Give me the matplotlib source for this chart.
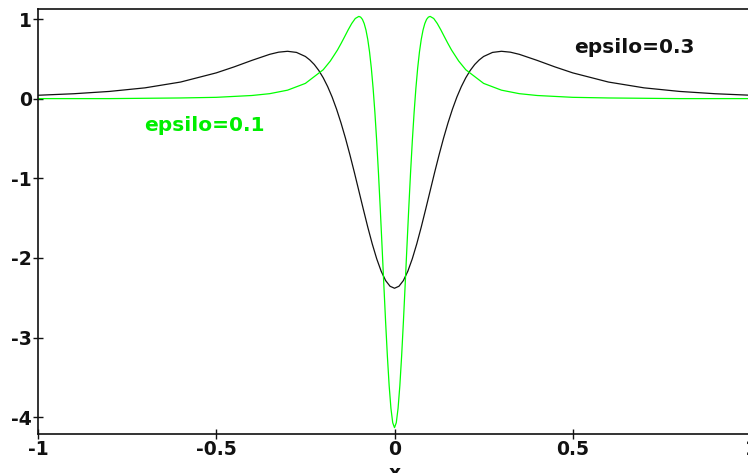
import matplotlib
matplotlib.use("Agg")
import matplotlib.pyplot as plt

# epsilo = 0.3 (black curve)
x_black = [-1.0, -0.9, -0.8, -0.7, -0.6, -0.5, -0.45, -0.4, -0.35, -0.325, -0.3, -0.275,
           -0.25, -0.2375, -0.225, -0.2125, -0.2, -0.1875, -0.175, -0.1625, -0.15, -0.1375,
           -0.125, -0.1125, -0.1, -0.0875, -0.075, -0.0625, -0.05, -0.0375, -0.025, -0.0125,
           0.0,
           0.0125, 0.025, 0.0375, 0.05, 0.0625, 0.075, 0.0875, 0.1, 0.1125, 0.125, 0.1375,
           0.15, 0.1625, 0.175, 0.1875, 0.2, 0.2125, 0.225, 0.2375, 0.25, 0.275, 0.3, 0.325,
           0.35, 0.4, 0.45, 0.5, 0.6, 0.7, 0.8, 0.9, 1.0]
y_black = [0.043, 0.062, 0.091, 0.136, 0.209, 0.324, 0.399, 0.481, 0.557, 0.584, 0.595, 0.581,
           0.530, 0.486, 0.429, 0.355, 0.263, 0.152, 0.021, -0.132, -0.305, -0.497,
           -0.706, -0.927, -1.157, -1.387, -1.612, -1.822, -2.009, -2.165, -2.283, -2.355,
           -2.38,
           -2.355, -2.283, -2.165, -2.009, -1.822, -1.612, -1.387, -1.157, -0.927, -0.706, -0.497,
           -0.305, -0.132, 0.021, 0.152, 0.263, 0.355, 0.429, 0.486, 0.530, 0.581, 0.595, 0.584,
           0.557, 0.481, 0.399, 0.324, 0.209, 0.136, 0.091, 0.062, 0.043]

# epsilo = 0.1 (green curve)
x_green = [-1.0, -0.8, -0.7, -0.6, -0.5, -0.4, -0.35, -0.3, -0.25, -0.2, -0.18, -0.16, -0.15,
           -0.14, -0.13, -0.12, -0.11, -0.1, -0.095, -0.09, -0.085, -0.08, -0.075, -0.07,
           -0.065, -0.06, -0.055, -0.05, -0.045, -0.04, -0.035, -0.03, -0.025, -0.02, -0.015,
           -0.01, -0.005, 0.0,
           0.005, 0.01, 0.015, 0.02, 0.025, 0.03, 0.035, 0.04, 0.045, 0.05, 0.055, 0.06,
           0.065, 0.07, 0.075, 0.08, 0.085, 0.09, 0.095, 0.1, 0.11, 0.12, 0.13, 0.14, 0.15,
           0.16, 0.18, 0.2, 0.25, 0.3, 0.35, 0.4, 0.5, 0.6, 0.7, 0.8, 1.0]
y_green = [0.001, 0.001, 0.005, 0.009, 0.017, 0.040, 0.063, 0.107, 0.192, 0.363, 0.473, 0.611, 0.692,
           0.777, 0.864, 0.944, 1.007, 1.033, 1.024, 0.996, 0.943, 0.861, 0.744, 0.587,
           0.384, 0.131, -0.173, -0.529, -0.932, -1.376, -1.847, -2.328, -2.798, -3.231, -3.603,
           -3.888, -4.068, -4.13,
           -4.068, -3.888, -3.603, -3.231, -2.798, -2.328, -1.847, -1.376, -0.932, -0.529, -0.173, 0.131,
           0.384, 0.587, 0.744, 0.861, 0.943, 0.996, 1.024, 1.033, 1.007, 0.944, 0.864, 0.777, 0.692,
           0.611, 0.473, 0.363, 0.192, 0.107, 0.063, 0.040, 0.017, 0.009, 0.005, 0.001, 0.001]

x_ticks = [-1, -0.5, 0, 0.5, 1]
x_tick_labels = ["-1", "-0.5", "0", "0.5", "1"]
y_ticks = [1, 0, -1, -2, -3, -4]
y_tick_labels = ["1", "0", "-1", "-2", "-3", "-4"]

plt.rcParams['font.family'] = ['DejaVu Sans']

fig = plt.figure(figsize=(7.48, 4.73), dpi=100)
ax = fig.add_axes([38 / 748, 1 - 434 / 473, (751 - 38) / 748, (434 - 9) / 473])

ax.plot(x_black, y_black, color="#111111", lw=0.9)
ax.plot(x_green, y_green, color="#00ff00", lw=0.9)

ax.set_xlim(-1, 1)
ax.set_ylim(-4.21, 1.126)

ax.set_xticks(x_ticks)
ax.set_xticklabels(x_tick_labels)
ax.set_yticks(y_ticks)
ax.set_yticklabels(y_tick_labels)
ax.tick_params(direction="inout", length=7, width=1, labelsize=13.5, pad=1, colors="#111111")
for lab in ax.get_xticklabels() + ax.get_yticklabels():
    lab.set_fontweight("bold")

ax.spines["right"].set_visible(False)
for s in ["left", "bottom", "top"]:
    ax.spines[s].set_linewidth(1.2)
    ax.spines[s].set_color("#111111")

ax.text(0.503, 0.64, "epsilo=0.3", color="#111111", fontsize=14.5, fontweight="bold",
        ha="left", va="center")
ax.text(-0.702, -0.34, "epsilo=0.1", color="#00ee00", fontsize=14.5, fontweight="bold",
        ha="left", va="center")

fig.text(395 / 748, 1 - 464 / 473, "x", fontsize=13.5, fontweight="bold", ha="center",
         va="top", color="#111111")

fig.savefig("out.png", dpi=100)
